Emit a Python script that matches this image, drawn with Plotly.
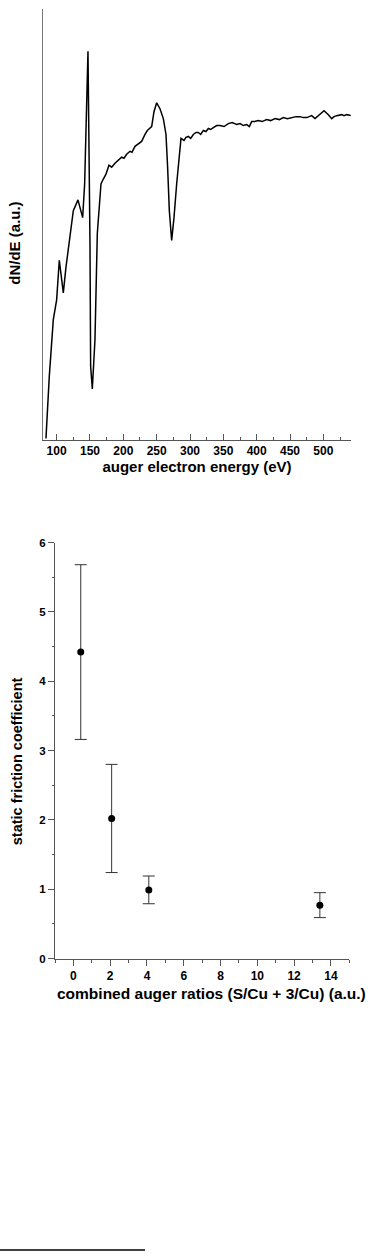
import plotly.graph_objects as go

# ---- Top panel: Auger spectrum ----
energy_ev = [84, 89, 95, 100, 104, 110, 114, 121, 125, 132, 139, 142, 145, 147,
             150, 151, 153.5, 157.5, 161, 166.5, 170, 174, 178.5, 182.5, 187.5,
             194, 197.5, 201, 205, 210, 213, 217.5, 222, 227.5, 232.5, 236, 242.5,
             246, 250, 255, 260, 264, 266.5, 269, 272.5, 276, 280, 284, 286.5,
             291, 294, 297.5, 301, 305, 309, 312.5, 316, 320, 324, 327.5, 331,
             335, 340, 345, 351, 357.5, 363, 370, 375, 380, 385, 389, 392.5,
             397, 402.5, 408, 415, 421, 427.5, 434, 440, 446, 452.5, 459, 465,
             470, 475, 482.5, 487.5, 491, 495, 501, 507.5, 512.5, 516, 520,
             527.5, 531, 535, 542.5]
dnde_au = [1, 64, 121, 141, 181, 148, 174, 208, 231, 242, 224, 258, 358, 392,
           198, 74, 51, 101, 208, 258, 263, 268, 277, 275, 279,
           283, 285, 284, 288, 291, 290, 296, 298, 301, 308, 312, 316,
           331, 340, 334, 324, 308, 274, 231, 201, 224, 258, 291, 304,
           302, 305, 306, 304, 308, 310, 310, 308, 312, 311, 314, 313,
           315, 317, 317, 316, 319, 320, 318, 319, 317, 318, 316, 321,
           321, 322, 321, 323, 322, 324, 323, 325, 324, 325, 326, 326,
           325, 325, 327, 324, 326, 328, 332, 328, 324, 326, 327,
           328, 327, 328, 327]

# ---- Bottom panel: friction vs Auger ratios ----
auger_ratio = [0.4, 2.08, 4.1, 13.4]
friction_coef = [4.42, 2.02, 0.99, 0.77]
friction_err = [1.26, 0.78, 0.20, 0.18]

W, H = 371, 1257

def px_x(p):
    return p / W

def px_y(p):
    return 1 - p / H

FONT = "Liberation Sans, Arial, sans-serif"
AXC = "#555555"

fig = go.Figure()

fig.add_trace(go.Scatter(
    x=energy_ev, y=dnde_au, mode="lines",
    line=dict(color="black", width=1.5),
    xaxis="x", yaxis="y", showlegend=False))

fig.add_trace(go.Scatter(
    x=auger_ratio, y=friction_coef, mode="markers",
    marker=dict(color="black", size=7),
    error_y=dict(type="data", array=friction_err, visible=True,
                 color="#333333", thickness=1, width=6),
    xaxis="x2", yaxis="y2", showlegend=False))

fig.update_layout(
    width=W, height=H,
    margin=dict(l=0, r=0, t=0, b=0),
    paper_bgcolor="white", plot_bgcolor="white",
    font=dict(family=FONT, color="black"),
    xaxis=dict(
        domain=[px_x(43.3), px_x(350.7)], anchor="y",
        range=[80, 541], showgrid=False, zeroline=False,
        showline=True, linecolor=AXC, linewidth=1,
        tickmode="linear", tick0=100, dtick=50,
        ticks="inside", ticklen=6, tickcolor=AXC,
        minor=dict(dtick=25, tick0=75, ticks="inside", ticklen=3, tickcolor=AXC),
        tickfont=dict(size=12, weight="bold"),
        title=dict(text="auger electron energy (eV)", standoff=3,
                   font=dict(size=15, weight="bold")),
    ),
    yaxis=dict(
        domain=[px_y(437.7), px_y(3)], anchor="x",
        range=[0, 434.7], showgrid=False, zeroline=False,
        showline=True, linecolor="#777777", linewidth=1,
        showticklabels=False, ticks="",
    ),
    xaxis2=dict(
        domain=[px_x(55), px_x(349.3)], anchor="y2",
        range=[-1, 15], showgrid=False, zeroline=False,
        showline=True, linecolor=AXC, linewidth=1,
        tickmode="linear", tick0=0, dtick=2,
        ticks="outside", ticklen=6, tickcolor=AXC,
        minor=dict(dtick=1, tick0=1, ticks="outside", ticklen=3, tickcolor=AXC),
        tickfont=dict(size=12, weight="bold"),
    ),
    yaxis2=dict(
        domain=[px_y(961.7), px_y(541.7)], anchor="x2",
        range=[0, 6], showgrid=False, zeroline=False,
        showline=True, linecolor=AXC, linewidth=1,
        tickmode="linear", tick0=0, dtick=1,
        ticks="outside", ticklen=6, tickcolor=AXC,
        minor=dict(dtick=0.5, ticks="outside", ticklen=2, tickcolor=AXC),
        tickfont=dict(size=11.5, weight="bold"),
    ),
    annotations=[
        dict(text="dN/dE (a.u.)",
             xref="paper", yref="paper", x=px_x(15), y=px_y(240),
             xanchor="center", yanchor="middle", showarrow=False, textangle=-90,
             font=dict(size=15, weight="bold")),
        dict(text="combined auger ratios (S/Cu + 3/Cu) (a.u.)",
             xref="paper", yref="paper", x=px_x(211), y=px_y(997),
             xanchor="center", yanchor="middle", showarrow=False,
             font=dict(size=15.5, weight="bold")),
        dict(text="static friction coefficient",
             xref="paper", yref="paper", x=px_x(16.5), y=px_y(763),
             xanchor="center", yanchor="middle", showarrow=False, textangle=-90,
             font=dict(size=14.5, weight="bold")),
    ],
    shapes=[dict(type="line", xref="paper", yref="paper",
                 x0=0, x1=px_x(145), y0=px_y(1256), y1=px_y(1256),
                 line=dict(color="black", width=1.5))],
)

fig.write_html(
    "out.html",
    config={"displayModeBar": False},
    post_script="document.body.style.margin='0';document.body.style.overflow='hidden';",
)
